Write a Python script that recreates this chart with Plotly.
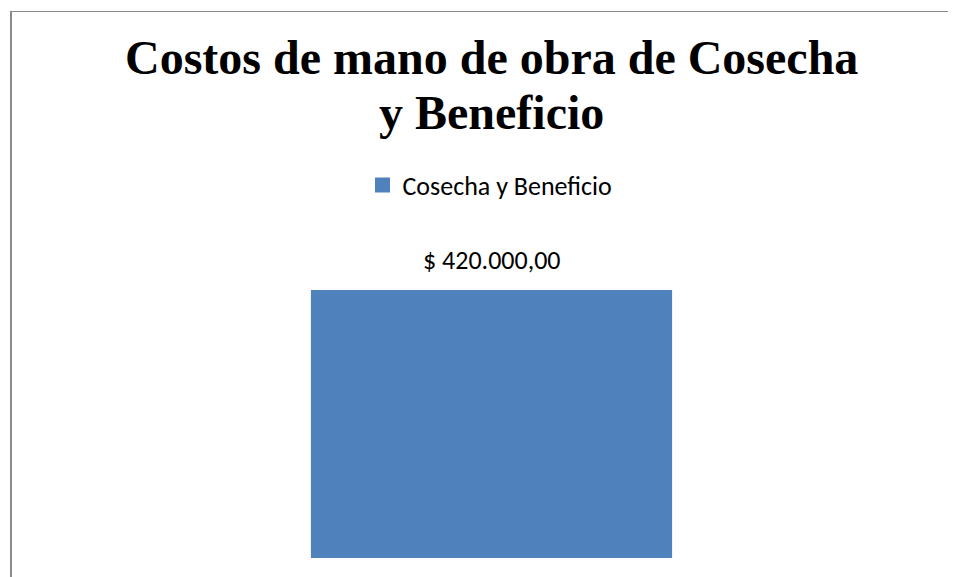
import plotly.graph_objects as go

categories = ["Cosecha y Beneficio"]
values = [420000]
series_name = "Cosecha y Beneficio"
title_lines = ["Costos de mano de obra de Cosecha", "y Beneficio"]

OFF = 8  # page body margin
W, H = 956 - OFF, 577 - OFF
L, R, T, B = 40 - OFF, 13, 240 - OFF, 19
plot_w = W - L - R
plot_h = H - T - B
bar_top_page, bar_bottom_page = 290, 558
ymax = values[0] * plot_h / (bar_bottom_page - bar_top_page)

def px_x(x):
    return (x - OFF - L) / plot_w

def px_y(y):
    return (H - B - (y - OFF)) / plot_h

def es_money(v):
    s = f"{v:,.2f}".replace(",", "X").replace(".", ",").replace("X", ".")
    return "$ " + s

BLUE = "#4F81BD"
SANS = "Carlito, Calibri, Lato, sans-serif"

fig = go.Figure()
fig.add_trace(go.Bar(
    x=categories, y=values, name=series_name,
    marker=dict(color=BLUE, line=dict(width=0)),
    showlegend=False, hoverinfo="y",
))
fig.add_trace(go.Scatter(
    x=[None], y=[None], mode="markers", name=series_name,
    marker=dict(symbol="square", size=15, color=BLUE),
))

annotations = []
for line, ybase in zip(title_lines, [75, 130]):
    annotations.append(dict(
        text=line, x=px_x(491), y=px_y(ybase + 11), xref="paper", yref="paper",
        xanchor="center", yanchor="bottom", showarrow=False,
        font=dict(family="Liberation Serif", size=48, weight="bold", color="#000000"),
    ))
for c, v in zip(categories, values):
    annotations.append(dict(
        text=es_money(v), x=c, y=v, xref="x", yref="y",
        xanchor="center", yanchor="bottom", yshift=12, showarrow=False,
        font=dict(family=SANS, size=26, color="#000000"),
    ))

fig.update_layout(
    width=W, height=H,
    margin=dict(l=L, r=R, t=T, b=B),
    paper_bgcolor="white", plot_bgcolor="white",
    bargap=0.6,
    showlegend=True,
    legend=dict(orientation="h", x=px_x(490), xanchor="center", y=px_y(185), yanchor="middle",
                font=dict(family=SANS, size=26, color="#000000"), bgcolor="rgba(0,0,0,0)"),
    xaxis=dict(visible=False),
    yaxis=dict(visible=False, range=[0, ymax]),
    annotations=annotations,
    shapes=[
        dict(type="line", xref="paper", yref="paper", x0=px_x(11), x1=px_x(11), y0=px_y(11), y1=px_y(700),
             line=dict(color="#8A8A8A", width=2)),
        dict(type="line", xref="paper", yref="paper", x0=px_x(10), x1=px_x(1100), y0=px_y(11.5), y1=px_y(11.5),
             line=dict(color="#8A8A8A", width=1.2)),
    ],
)
fig.write_html("out.html")
